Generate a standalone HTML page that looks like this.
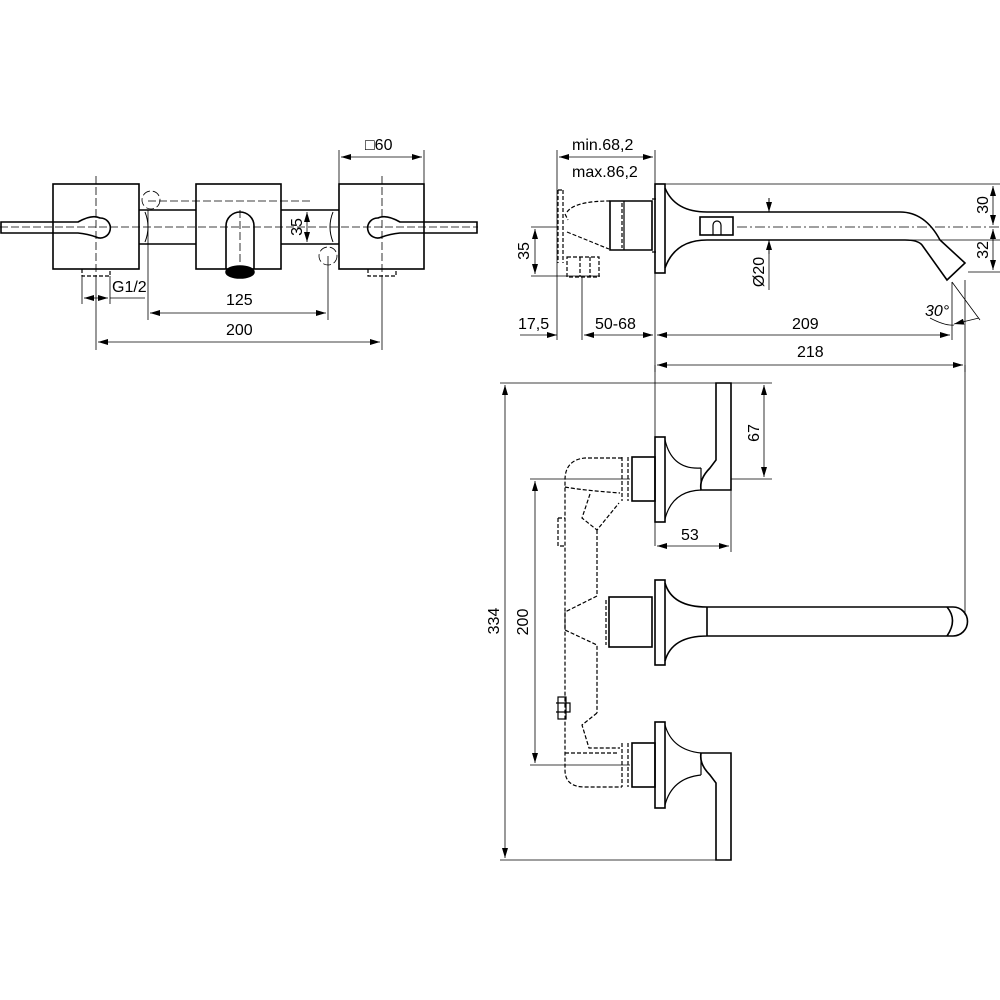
<!DOCTYPE html>
<html><head><meta charset="utf-8"><style>
html,body{margin:0;padding:0;background:#fff}
svg{display:block}
text{font-family:"Liberation Sans",sans-serif;font-size:16px;fill:#000}
</style></head><body>
<svg width="1000" height="1000" viewBox="0 0 1000 1000" xmlns="http://www.w3.org/2000/svg">
<defs>
<marker id="a" viewBox="0 0 10 6" refX="10" refY="3" markerWidth="10" markerHeight="6" orient="auto-start-reverse" markerUnits="userSpaceOnUse"><path d="M0,0L10,3L0,6z" fill="#000"/></marker>
</defs>
<g fill="none" stroke="#000" stroke-width="1.6">
<rect x="53" y="184" width="86" height="85"/>
<rect x="196" y="184" width="85" height="85"/>
<rect x="339" y="184" width="85" height="85"/>
<path d="M139,210H196M139,244H196M281,210H339M281,244H339"/>
<path d="M145,212Q151,227 145,242M333,212Q327,227 333,242" stroke-width="1"/>
<path d="M1,222H78Q92,214 100,218A10,10 0 1 1 96,237Q88,234 78,233H1Z"/>
<path d="M477,222H400Q386,214 378,218A10,10 0 1 0 382,237Q390,234 400,233H477Z"/>
<path d="M226,269V226A14,14 0 0 1 254,226V269"/>
<ellipse cx="240" cy="272" rx="14" ry="6" fill="#000"/>
<path d="M82,269V276H110V269M368,269V276H396V269" stroke-width="1.2" stroke-dasharray="4,2"/>
</g>
<g fill="none" stroke="#000" stroke-width="0.8" stroke-dasharray="8,3">
<path d="M0,227H478M96,176V278M382,176V278M240,210V262"/>
<path d="M148,201H310"/>
<circle cx="151" cy="200" r="9"/><circle cx="328" cy="256" r="9"/>
</g>
<g fill="none" stroke="#000" stroke-width="0.8">
<path d="M339,150V184M424,150V184M148,210V320M328,256V320M96,278V350M382,278V350M82,276V304M110,276V304M110,298H145"/>
<path d="M294,210H310M294,244H310"/>
<path d="M341,157H422" marker-start="url(#a)" marker-end="url(#a)"/>
<path d="M307,212V242" marker-start="url(#a)" marker-end="url(#a)"/>
<path d="M84,298H108" marker-start="url(#a)" marker-end="url(#a)"/>
<path d="M150,313H326" marker-start="url(#a)" marker-end="url(#a)"/>
<path d="M98,342H380" marker-start="url(#a)" marker-end="url(#a)"/>
</g>
<text x="365" y="150">□60</text>
<text x="112" y="292">G1/2</text>
<text x="226" y="305">125</text>
<text x="226" y="335">200</text>
<text transform="translate(302,227) rotate(-90)" text-anchor="middle">35</text>

<g fill="none" stroke="#000" stroke-width="1.6">
<rect x="655" y="184" width="10" height="89"/>
<path d="M665,188Q675,212 707,212H900Q925,212 940,240L965,263L947,280L922,245Q918,240 905,240H707Q675,240 665,268"/>
<rect x="700" y="217" width="33" height="18"/>
<path d="M713,235V225A4,4 0 0 1 721,225V235" stroke-width="1.2"/>
<path d="M610,201H652V250H610Z"/>
<path d="M624,201V250M652,199H656M652,252H656" stroke-width="1.2"/>
</g>
<g fill="none" stroke="#000" stroke-width="1.2" stroke-dasharray="4,2">
<path d="M558,190V263M563,190V263M558,190H563M567,212Q575,201 610,201M567,232L609,249M565,214L568,220M567,257H599V277H567Z"/>
<path d="M580,257V277M590,257V277M622,203V248"/>
</g>
<g fill="none" stroke="#000" stroke-width="0.8">
<path d="M737,227H1000" stroke-dasharray="10,3,2,3"/>
<path d="M557,150V340M655,150V184M655,273V372M582,277V340M952,282V340M965,280V372M531,227H558M531,276H600"/>
<path d="M665,184H1000M905,240H1000M968,272H1000M769,240V290M769,198V212"/>
<path d="M952,282L980,320" />
<path d="M559,157H653" marker-start="url(#a)" marker-end="url(#a)"/>
<path d="M993,186V225" marker-start="url(#a)" marker-end="url(#a)"/>
<path d="M993,229V270" marker-start="url(#a)" marker-end="url(#a)"/>
<path d="M769,198V212" marker-end="url(#a)"/>
<path d="M769,254V240" marker-end="url(#a)"/>
<path d="M535,229V274" marker-start="url(#a)" marker-end="url(#a)"/>
<path d="M520,335H557" marker-end="url(#a)"/>
<path d="M584,335H653" marker-start="url(#a)" marker-end="url(#a)"/>
<path d="M657,335H950" marker-start="url(#a)" marker-end="url(#a)"/>
<path d="M657,365H963" marker-start="url(#a)" marker-end="url(#a)"/>
<path d="M930,318Q945,326 954,325" />
<path d="M954,324L979,318" marker-start="url(#a)"/>
</g>
<text x="572" y="150">min.68,2</text>
<text x="572" y="177">max.86,2</text>
<text x="518" y="329">17,5</text>
<text x="595" y="329">50-68</text>
<text x="792" y="329">209</text>
<text x="797" y="357">218</text>
<text x="925" y="316" font-style="italic">30°</text>
<text transform="translate(988,205) rotate(-90)" text-anchor="middle">30</text>
<text transform="translate(988,250) rotate(-90)" text-anchor="middle">32</text>
<text transform="translate(764,272) rotate(-90)" text-anchor="middle">Ø20</text>
<text transform="translate(529,251) rotate(-90)" text-anchor="middle">35</text>

<g fill="none" stroke="#000" stroke-width="1.6">
<rect x="655" y="437" width="10" height="85"/>
<path d="M716,383H731V490H701Q699,479 710,468L716,460Z"/>
<path d="M665,440Q672,470 701,468M665,519Q672,491 701,490M701,468V490" stroke-width="1.2"/>
<rect x="632" y="457" width="23" height="44"/>
<rect x="655" y="580" width="10" height="85"/>
<rect x="609" y="597" width="43" height="50"/>
<path d="M665,583Q672,607 707,607H953A14,14 0 0 1 953,636H707Q672,636 665,661M707,607V636M947,607Q958,620 947,636"/>
<rect x="655" y="722" width="10" height="86"/>
<path d="M716,860H731V753H701Q699,764 710,775L716,783Z"/>
<path d="M665,725Q672,750 701,753M665,805Q672,778 701,775M701,753V775" stroke-width="1.2"/>
<rect x="632" y="743" width="23" height="44"/>
</g>
<g fill="none" stroke="#000" stroke-width="1.2" stroke-dasharray="4,2">
<path d="M622,457V501M628,457V501M622,743V787M628,743V787M606,600V645"/>
<path d="M622,458H585Q565,460 565,480V770Q565,787 585,787H622"/>
<path d="M565,487Q580,490 620,493M590,494L582,518L597,530L619,503"/>
<path d="M597,530V596L565,612V630L597,645V713"/>
<path d="M597,713L582,725L589,748L620,748M565,753L618,753"/>
<path d="M558,518H565M558,518V546H565"/>
</g>
<g fill="none" stroke="#000" stroke-width="0.8">
<path d="M500,383H716M731,383H772M500,860H716M731,479H772M530,479H630M530,765H630M655,365V546M731,490V552M965,365V615"/>
<rect x="558" y="697" width="8" height="22" stroke-width="1.2"/>
<path d="M556,703H570V712H556" stroke-width="1.2"/>
<path d="M505,385V858" marker-start="url(#a)" marker-end="url(#a)"/>
<path d="M535,481V763" marker-start="url(#a)" marker-end="url(#a)"/>
<path d="M764,385V477" marker-start="url(#a)" marker-end="url(#a)"/>
<path d="M657,546H729" marker-start="url(#a)" marker-end="url(#a)"/>
</g>
<text x="681" y="540">53</text>
<text transform="translate(759,433) rotate(-90)" text-anchor="middle">67</text>
<text transform="translate(528,622) rotate(-90)" text-anchor="middle">200</text>
<text transform="translate(499,621) rotate(-90)" text-anchor="middle">334</text>
</svg>
</body></html>
